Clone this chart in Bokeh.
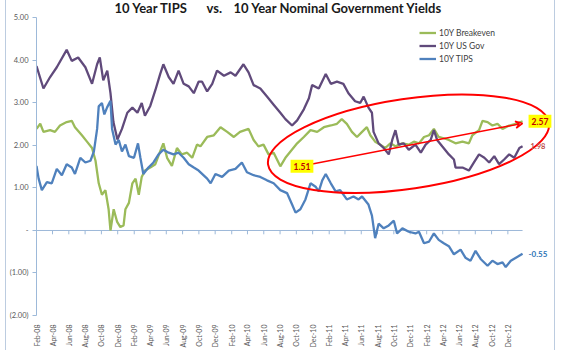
import math
import pandas as pd
from bokeh.plotting import figure
from bokeh.models import (Range1d, FixedTicker, DatetimeTickFormatter, Label, Arrow,
                          VeeHead, Legend, LegendItem)
from bokeh.embed import file_html
from bokeh.resources import INLINE

# ---------------- data ----------------
gov_dates = ["2008-02-01","2008-02-27","2008-03-23","2008-04-17","2008-05-24","2008-06-12","2008-07-06",
             "2008-08-02","2008-08-27","2008-09-15","2008-09-25","2008-10-08","2008-10-23","2008-11-04",
             "2008-11-15","2008-11-30","2008-12-17","2009-01-06","2009-01-25","2009-02-13","2009-03-01",
             "2009-03-13","2009-04-02","2009-04-21","2009-05-09","2009-05-21","2009-06-10","2009-06-28",
             "2009-07-17","2009-08-05","2009-08-24","2009-09-12","2009-09-30","2009-10-13","2009-11-01",
             "2009-11-20","2009-12-08","2010-01-03","2010-01-28","2010-02-15","2010-03-17","2010-04-05",
             "2010-04-24","2010-05-19","2010-06-13","2010-07-08","2010-08-02","2010-08-21","2010-09-15",
             "2010-10-04","2010-10-29","2010-11-17","2010-11-29","2010-12-24","2011-01-19","2011-02-07",
             "2011-03-02","2011-03-26","2011-04-14","2011-05-09","2011-05-28","2011-06-10","2011-06-28",
             "2011-07-11","2011-07-17","2011-08-05","2011-08-24","2011-09-12","2011-09-25","2011-10-07",
             "2011-10-19","2011-11-07","2011-11-26","2011-12-21","2012-01-10","2012-01-28","2012-02-16",
             "2012-02-28","2012-03-11","2012-03-30","2012-04-24","2012-05-13","2012-05-19","2012-06-14",
             "2012-07-08","2012-07-27","2012-08-15","2012-09-04","2012-09-22","2012-10-11","2012-10-29",
             "2012-11-17","2012-12-06","2012-12-25","2013-01-13","2013-01-25"]
gov_values = [3.87,3.34,3.61,3.84,4.25,3.99,4.07,3.84,3.45,3.91,4.07,3.53,3.76,3.23,2.55,2.14,2.39,2.77,
              2.89,2.77,3.00,2.70,2.93,3.30,3.68,3.91,3.61,3.45,3.76,3.45,3.39,3.23,3.50,3.50,3.27,3.45,
              3.76,3.64,3.72,3.64,3.91,3.72,3.42,3.34,3.15,2.96,2.77,2.62,2.47,2.59,2.85,3.11,3.42,3.34,
              3.68,3.45,3.50,3.45,3.23,3.04,3.00,3.15,2.89,2.77,2.32,2.05,1.94,1.79,2.13,2.36,2.02,2.05,
              1.90,2.02,1.83,2.02,2.13,2.36,2.13,1.98,1.79,1.67,1.48,1.48,1.41,1.60,1.79,1.71,1.60,1.75,
              1.56,1.67,1.79,1.71,1.94,1.98]

be_dates = ["2008-02-01","2008-02-15","2008-02-27","2008-03-23","2008-04-10","2008-04-29","2008-05-24",
            "2008-06-12","2008-06-24","2008-07-20","2008-08-08","2008-08-27","2008-09-09","2008-09-21",
            "2008-10-03","2008-10-16","2008-10-28","2008-11-04","2008-11-16","2008-11-29","2008-12-11",
            "2008-12-23","2008-12-30","2009-01-12","2009-01-25","2009-02-06","2009-02-18","2009-03-01",
            "2009-03-13","2009-04-02","2009-04-21","2009-05-09","2009-05-21","2009-06-04","2009-06-22",
            "2009-07-11","2009-07-29","2009-08-18","2009-09-06","2009-09-24","2009-10-07","2009-11-01",
            "2009-11-26","2009-12-21","2010-01-15","2010-02-09","2010-03-04","2010-04-05","2010-04-24",
            "2010-05-12","2010-05-31","2010-06-19","2010-07-08","2010-08-02","2010-08-21","2010-09-09",
            "2010-10-04","2010-10-29","2010-11-23","2010-12-18","2011-01-12","2011-02-07","2011-03-02",
            "2011-03-20","2011-04-08","2011-04-27","2011-05-16","2011-06-04","2011-06-22","2011-07-05",
            "2011-07-23","2011-08-11","2011-08-30","2011-09-18","2011-10-07","2011-11-02","2011-11-26",
            "2011-12-15","2012-01-03","2012-01-22","2012-02-10","2012-02-28","2012-03-17","2012-04-05",
            "2012-04-24","2012-05-19","2012-06-14","2012-07-08","2012-07-21","2012-08-15","2012-08-28",
            "2012-09-16","2012-10-04","2012-10-23","2012-11-11","2012-12-06","2012-12-31","2013-01-25"]
be_values = [2.39,2.51,2.32,2.36,2.32,2.47,2.55,2.58,2.43,2.24,2.09,1.94,1.64,1.11,0.84,0.95,0.50,0.00,
             0.50,0.20,0.08,0.12,0.50,0.65,1.11,1.22,0.84,1.26,1.41,1.48,1.56,1.86,2.05,1.71,1.52,1.94,
             1.79,1.83,1.71,2.02,1.98,2.20,2.24,2.43,2.32,2.20,2.32,2.39,2.13,1.98,2.02,1.79,1.83,1.51,
             1.71,1.86,2.05,2.20,2.36,2.32,2.43,2.47,2.51,2.62,2.51,2.32,2.20,2.32,2.43,2.24,2.09,2.02,
             1.94,2.05,1.98,2.05,2.02,2.09,2.05,2.20,2.24,2.39,2.20,2.17,2.13,2.05,2.09,2.05,2.24,2.36,
             2.58,2.55,2.47,2.51,2.39,2.47,2.51,2.57]

tips_dates = ["2008-02-01","2008-02-09","2008-02-21","2008-03-11","2008-03-29","2008-04-17","2008-05-06",
              "2008-05-24","2008-06-12","2008-06-24","2008-07-14","2008-08-02","2008-08-21","2008-09-03",
              "2008-09-15","2008-09-21","2008-10-03","2008-10-12","2008-10-22","2008-11-04","2008-11-10",
              "2008-11-23","2008-12-05","2008-12-17","2008-12-30","2009-01-12","2009-01-31","2009-02-15",
              "2009-02-24","2009-03-07","2009-03-26","2009-04-14","2009-05-03","2009-05-21","2009-06-10",
              "2009-06-28","2009-07-17","2009-08-05","2009-08-24","2009-09-12","2009-09-30","2009-11-01",
              "2009-11-14","2009-12-02","2009-12-27","2010-01-21","2010-02-15","2010-03-11","2010-03-30",
              "2010-04-24","2010-05-19","2010-06-13","2010-07-08","2010-08-02","2010-08-27","2010-09-15",
              "2010-09-28","2010-10-16","2010-11-04","2010-11-23","2010-12-12","2010-12-24","2011-01-06",
              "2011-01-19","2011-02-07","2011-02-25","2011-03-14","2011-04-08","2011-05-03","2011-05-22",
              "2011-06-04","2011-06-28","2011-07-11","2011-07-23","2011-08-05","2011-08-24","2011-09-12",
              "2011-10-01","2011-10-13","2011-11-02","2011-11-26","2011-12-21","2012-01-03","2012-01-22",
              "2012-02-10","2012-02-28","2012-03-17","2012-04-05","2012-04-24","2012-05-13","2012-06-07",
              "2012-06-25","2012-07-14","2012-08-02","2012-08-21","2012-09-16","2012-10-04","2012-10-23",
              "2012-11-11","2012-11-23","2012-12-12","2012-12-31","2013-01-25"]
tips_values = [1.52,1.22,0.95,1.14,1.11,1.45,1.30,1.56,1.48,1.33,1.71,1.60,1.64,1.86,2.39,2.92,3.00,2.73,
               2.89,3.05,2.39,2.02,2.13,1.86,2.02,1.75,1.71,2.05,1.71,1.33,1.48,1.60,1.79,1.90,1.83,1.79,
               1.83,1.71,1.56,1.48,1.41,1.22,1.11,1.33,1.26,1.41,1.45,1.60,1.37,1.30,1.26,1.18,1.11,0.95,
               0.88,0.61,0.42,0.50,0.73,1.11,1.03,0.92,1.18,1.33,1.11,0.92,0.95,0.73,0.80,0.73,0.80,0.61,
               0.35,-0.18,0.16,0.05,0.12,0.23,-0.07,0.05,-0.03,-0.07,-0.03,-0.30,-0.26,-0.07,-0.22,-0.30,
               -0.37,-0.56,-0.45,-0.64,-0.71,-0.48,-0.67,-0.83,-0.71,-0.79,-0.75,-0.86,-0.71,-0.64,-0.55]

x_tick_labels = ["Feb-08","Apr-08","Jun-08","Aug-08","Oct-08","Dec-08","Feb-09","Apr-09","Jun-09",
                 "Aug-09","Oct-09","Dec-09","Feb-10","Apr-10","Jun-10","Aug-10","Oct-10","Dec-10",
                 "Feb-11","Apr-11","Jun-11","Aug-11","Oct-11","Dec-11","Feb-12","Apr-12","Jun-12",
                 "Aug-12","Oct-12","Dec-12"]
y_tick_values = [-2, -1, 0, 1, 2, 3, 4, 5]
y_tick_labels = ["(2.00)", "(1.00)", "-", "1.00", "2.00", "3.00", "4.00", "5.00"]

series_names = ["10Y Breakeven", "10Y US Gov", "10Y TIPS"]
series_colors = ["#9BBB59", "#604A7B", "#4F81BD"]

title_parts = ["10 Year TIPS", "vs.", "10 Year Nominal Government Yields"]
trough_label = "1.51"
trough_date = "2010-10-22"   # where the callout box sits
end_labels = ["2.57", "1.98", "-0.55"]

# ---------------- layout helpers (pixels) ----------------
FONT = "Lato"
FRAME_BOTTOM = 325          # canvas y of the -2 line
Y_TOP_PX = 18               # canvas y of the 5.00 line
DATA_RIGHT_PX = 522 - 6     # where the series end, in figure pixels
FRAME_W = 549

gd = pd.to_datetime(gov_dates)
bd = pd.to_datetime(be_dates)
td = pd.to_datetime(tips_dates)
x_ticks = pd.to_datetime(x_tick_labels, format="%b-%y")
first, last = gd[0], bd[-1]

px_per_unit = (FRAME_BOTTOM - Y_TOP_PX) / (y_tick_values[-1] - y_tick_values[0])
y_end = y_tick_values[-1] + Y_TOP_PX / px_per_unit
data_px = DATA_RIGHT_PX - 29
span_days = (last - first) / pd.Timedelta(days=1)
x_end = first + pd.Timedelta(days=span_days * (FRAME_W - 29) / data_px)

p = figure(width=550, height=350, x_axis_type="datetime", output_backend="svg",
           toolbar_location=None, x_range=Range1d(first, x_end),
           y_range=Range1d(y_tick_values[0], y_end), min_border_left=29, min_border_right=1,
           min_border_top=0, min_border_bottom=350 - FRAME_BOTTOM,
           background_fill_color="white", border_fill_color="white")
p.styles = {"margin-left": "5px", "border-left": "1px solid #BCCCE0",
            "border-right": "1px solid #BCCCE0"}
p.outline_line_color = None
p.grid.visible = False

axis_col = "#9DB9D9"
xa = p.xaxis[0]
xa.ticker = FixedTicker(ticks=[t.value // 10**6 for t in x_ticks])
fmt = "%b-%y"
xa.formatter = DatetimeTickFormatter(days=fmt, months=fmt, years=fmt, hours=fmt,
                                     minutes=fmt, seconds=fmt, milliseconds=fmt, microseconds=fmt)
xa.major_label_orientation = math.pi / 2
xa.axis_line_color = None
xa.major_tick_line_color = None
xa.minor_tick_line_color = None
xa.major_label_text_font = FONT
xa.major_label_text_font_size = "7px"
xa.major_label_text_color = "#595959"
xa.major_label_standoff = 3

ya = p.yaxis[0]
ya.ticker = FixedTicker(ticks=y_tick_values)
ya.bounds = (y_tick_values[0], y_tick_values[-1])
ya.major_label_overrides = {v: l for v, l in zip(y_tick_values, y_tick_labels)}
ya.axis_line_color = axis_col
ya.major_tick_line_color = axis_col
ya.major_tick_out = 4
ya.major_tick_in = 0
ya.minor_tick_line_color = None
ya.major_label_text_font = FONT
ya.major_label_text_font_size = "7.5px"
ya.major_label_text_color = "#595959"
ya.major_label_standoff = 4

# zero line with its ticks
p.segment(x0=[first], y0=[0], x1=[last], y1=[0], line_color=axis_col, line_width=1)
p.segment(x0=x_ticks, y0=0, x1=x_ticks, y1=-0.09, line_color=axis_col, line_width=1)

# series
r_be = p.line(bd, be_values, line_color=series_colors[0], line_width=2.3)
r_gov = p.line(gd, gov_values, line_color=series_colors[1], line_width=2.3)
r_tips = p.line(td, tips_values, line_color=series_colors[2], line_width=2.3)

legend = Legend(items=[LegendItem(label=series_names[0], renderers=[r_be]),
                       LegendItem(label=series_names[1], renderers=[r_gov]),
                       LegendItem(label=series_names[2], renderers=[r_tips])],
                location=(383, 250), padding=0, margin=0, spacing=0,
                glyph_width=17, glyph_height=13, label_height=13, label_standoff=3,
                label_text_font=FONT, label_text_font_size="8.5px",
                label_text_color="#404040", background_fill_alpha=0,
                border_line_color=None)
p.add_layout(legend)

# title (screen units are measured from the frame's lower-left corner)
for txt, x in zip(title_parts, [113, 205, 232]):
    p.add_layout(Label(x=x - 35, y=FRAME_BOTTOM - 17, x_units="screen", y_units="screen",
                       text=txt, text_font=FONT, text_font_style="bold", text_font_size="13px",
                       text_color="#1a1a1a", text_baseline="alphabetic"))

# red ellipse + arrow
mid = pd.Timestamp("2011-11-25")
p.ellipse(x=[mid], y=[2.04], width=284, height=90, width_units="screen", height_units="screen",
          angle=0.148, fill_alpha=0, line_color="#FF0000", line_width=2)
p.add_layout(Arrow(x_start=pd.Timestamp("2010-11-10"), y_start=1.54, x_end=last, y_end=2.52,
                   line_color="#FF0000", line_width=1.5,
                   end=VeeHead(size=7, line_color="#FF0000", line_width=1.5, fill_alpha=0)))

# callouts
p.add_layout(Label(x=pd.Timestamp(trough_date), y=1.51, text=trough_label, text_font=FONT,
                   text_font_style="bold", text_font_size="8.5px", text_color="#C00000",
                   text_align="center", text_baseline="middle", background_fill_color="#FFFF00",
                   padding=3))
p.add_layout(Label(x=last, y=2.57, x_offset=6, text=end_labels[0], text_font=FONT,
                   text_font_style="bold", text_font_size="8.5px", text_color="#C00000",
                   text_baseline="middle", background_fill_color="#FFFF00", padding=3))
p.add_layout(Label(x=last, y=1.98, x_offset=8, text=end_labels[1], text_font=FONT,
                   text_font_style="bold", text_font_size="7.5px", text_color="#C0504D",
                   text_baseline="middle"))
p.add_layout(Label(x=last, y=-0.55, x_offset=6, text=end_labels[2], text_font=FONT,
                   text_font_style="bold", text_font_size="8px", text_color="#2E75B6",
                   text_baseline="middle"))

open("out.html", "w").write(file_html(p, INLINE))
